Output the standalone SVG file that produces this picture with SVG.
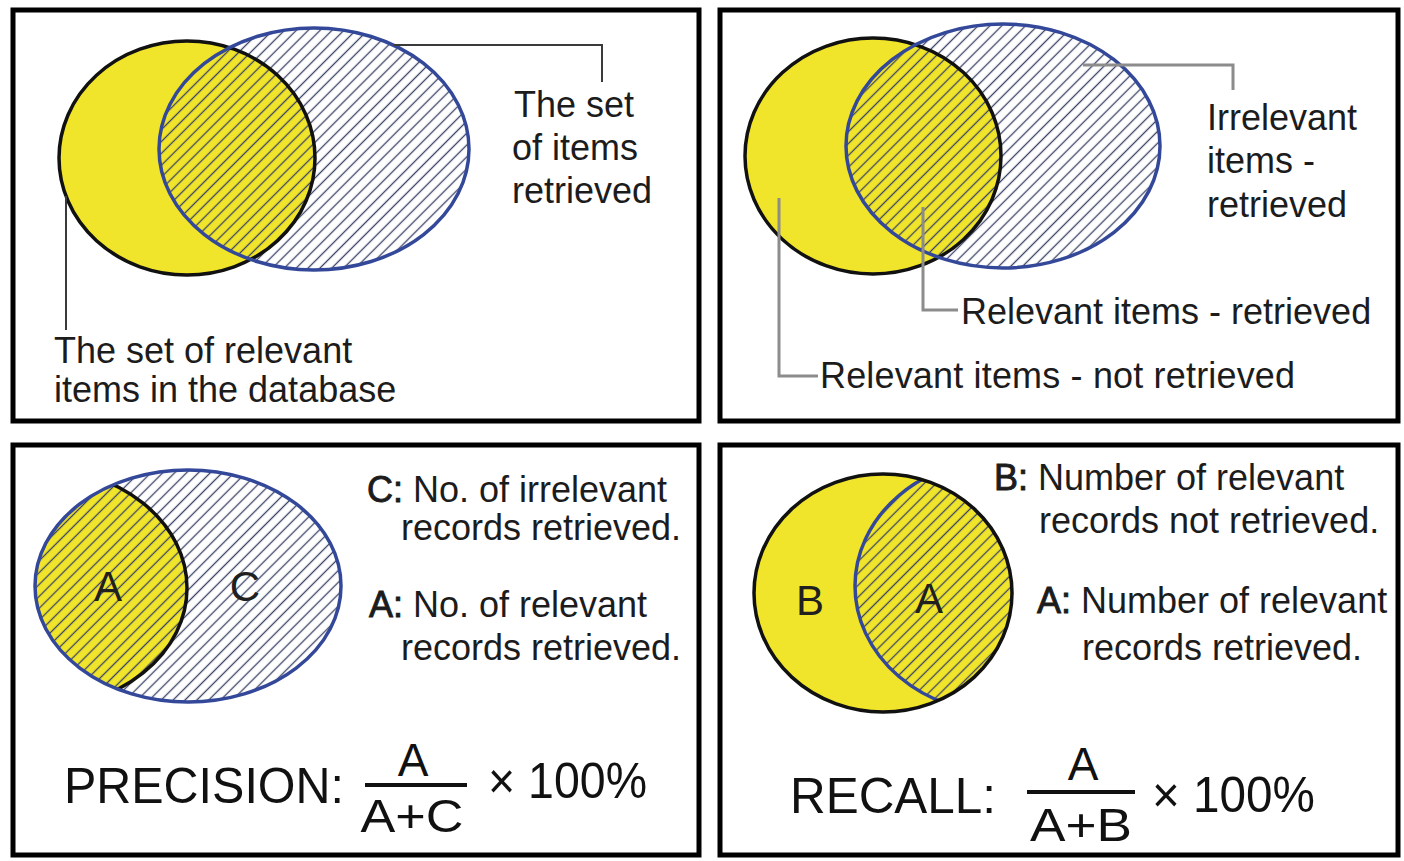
<svg xmlns="http://www.w3.org/2000/svg" width="1404" height="861" viewBox="0 0 1404 861">
  <style>
    .frame { fill: #ffffff; stroke: #000000; stroke-width: 5; }
    .yellow { fill: #F0E52A; }
    .hatch { fill: url(#hatch); }
    .edge-black { fill: none; stroke: #111111; stroke-width: 3.5; }
    .edge-blue { fill: none; stroke: #34489A; stroke-width: 3.5; }
    .lead-dark { fill: none; stroke: #3a3a3a; stroke-width: 2; }
    .lead-grey { fill: none; stroke: #8c8c8c; stroke-width: 3; }
    text { font-family: "Liberation Sans", Arial, sans-serif; fill: #1c1c1c; }
    .lbl { font-size: 36px; }
    .key { stroke: #1c1c1c; stroke-width: 0.9; }
    .region { font-size: 42px; fill: #202020; text-anchor: middle; }
    .formula { font-size: 50px; fill: #111111; }
    .frac { font-size: 46px; fill: #111111; text-anchor: middle; }
    .bar { stroke: #111111; stroke-width: 4; }
  </style>
  <defs>
    <!-- diagonal "/" line fill used for the retrieved set -->
    <pattern id="hatch" patternUnits="userSpaceOnUse" width="8.4" height="8.4" patternTransform="rotate(45)">
      <line x1="4.2" y1="0" x2="4.2" y2="8.4" stroke="#3a4266" stroke-width="1.3"/>
    </pattern>
    <clipPath id="clip-bl-retrieved">
      <ellipse cx="188" cy="586" rx="153" ry="116"/>
    </clipPath>
    <clipPath id="clip-br-relevant">
      <ellipse cx="883" cy="593" rx="129" ry="119"/>
    </clipPath>
  </defs>

  <rect width="1404" height="861" fill="#ffffff"/>

  <!-- Panel 1: the two sets -->
  <g id="panel-sets">
    <rect class="frame" x="13" y="10" width="686" height="411"/>
    <g id="set-relevant-1">
      <ellipse class="yellow" cx="187" cy="158" rx="128" ry="117"/>
    </g>
    <g id="set-retrieved-1">
      <ellipse class="hatch" cx="314" cy="149" rx="155" ry="121"/>
    </g>
    <ellipse class="edge-black" cx="187" cy="158" rx="128" ry="117"/>
    <ellipse class="edge-blue" cx="314" cy="149" rx="155" ry="121"/>
    <g id="label-retrieved-set">
      <text class="lbl" x="514" y="117">The set</text>
      <text class="lbl" x="512" y="160">of items</text>
      <text class="lbl" x="512" y="203">retrieved</text>
    </g>
    <g id="label-relevant-set">
      <text class="lbl" x="54" y="363">The set of relevant</text>
      <text class="lbl" x="54" y="402">items in the database</text>
    </g>
  </g>

  <!-- Panel 2: the three regions -->
  <g id="panel-regions">
    <rect class="frame" x="720" y="10" width="678" height="411"/>
    <g id="set-relevant-2">
      <ellipse class="yellow" cx="873" cy="156" rx="128" ry="118"/>
    </g>
    <g id="set-retrieved-2">
      <ellipse class="hatch" cx="1003" cy="146" rx="157" ry="122"/>
    </g>
    <ellipse class="edge-black" cx="873" cy="156" rx="128" ry="118"/>
    <ellipse class="edge-blue" cx="1003" cy="146" rx="157" ry="122"/>
    <g id="label-irrelevant-retrieved">
      <text class="lbl" x="1207" y="130">Irrelevant</text>
      <text class="lbl" x="1207" y="173">items -</text>
      <text class="lbl" x="1207" y="217">retrieved</text>
    </g>
    <g id="label-relevant-retrieved">
      <text class="lbl" x="961" y="324">Relevant items - retrieved</text>
    </g>
    <g id="label-relevant-not-retrieved">
      <text class="lbl" x="820" y="388" textLength="475" lengthAdjust="spacing">Relevant items - not retrieved</text>
    </g>
  </g>

  <!-- Panel 3: precision -->
  <g id="panel-precision">
    <rect class="frame" x="13" y="445" width="686" height="410"/>
    <g id="set-retrieved-3">
      <g clip-path="url(#clip-bl-retrieved)">
        <ellipse class="yellow" cx="37" cy="588" rx="150" ry="120"/>
      </g>
      <ellipse class="hatch" cx="188" cy="586" rx="153" ry="116"/>
      <g clip-path="url(#clip-bl-retrieved)">
        <ellipse class="edge-black" cx="37" cy="588" rx="150" ry="120"/>
      </g>
      <ellipse class="edge-blue" cx="188" cy="586" rx="153" ry="116"/>
      <text class="region" x="108" y="601">A</text>
      <text class="region" x="245" y="601">C</text>
    </g>
    <g id="legend-precision">
      <text class="lbl" x="367" y="502"><tspan class="key">C:</tspan> No. of irrelevant</text>
      <text class="lbl" x="401" y="540">records retrieved.</text>
      <text class="lbl" x="369" y="617" textLength="278" lengthAdjust="spacing"><tspan class="key">A:</tspan> No. of relevant</text>
      <text class="lbl" x="401" y="660">records retrieved.</text>
    </g>
    <g id="formula-precision">
      <text class="formula" x="64" y="803" textLength="280" lengthAdjust="spacingAndGlyphs">PRECISION:</text>
      <text class="frac" x="413" y="776">A</text>
      <line class="bar" x1="365" y1="785" x2="467" y2="785"/>
      <text class="frac" x="412" y="832" textLength="103" lengthAdjust="spacingAndGlyphs">A+C</text>
      <text class="formula" x="488" y="798" textLength="159" lengthAdjust="spacingAndGlyphs">× 100%</text>
    </g>
  </g>

  <!-- Panel 4: recall -->
  <g id="panel-recall">
    <rect class="frame" x="720" y="445" width="678" height="410"/>
    <g id="set-relevant-4">
      <ellipse class="yellow" cx="883" cy="593" rx="129" ry="119"/>
      <g clip-path="url(#clip-br-relevant)">
        <ellipse class="hatch" cx="1005" cy="586" rx="150" ry="128"/>
        <ellipse class="edge-blue" cx="1005" cy="586" rx="150" ry="128"/>
      </g>
      <ellipse class="edge-black" cx="883" cy="593" rx="129" ry="119"/>
      <text class="region" x="810" y="615">B</text>
      <text class="region" x="929" y="613">A</text>
    </g>
    <g id="legend-recall">
      <text class="lbl" x="994" y="490"><tspan class="key">B:</tspan> Number of relevant</text>
      <text class="lbl" x="1039" y="533">records not retrieved.</text>
      <text class="lbl" x="1037" y="613"><tspan class="key">A:</tspan> Number of relevant</text>
      <text class="lbl" x="1082" y="660">records retrieved.</text>
    </g>
    <g id="formula-recall">
      <text class="formula" x="790" y="813" textLength="206" lengthAdjust="spacingAndGlyphs">RECALL:</text>
      <text class="frac" x="1083" y="780">A</text>
      <line class="bar" x1="1027" y1="792" x2="1135" y2="792"/>
      <text class="frac" x="1081" y="841" textLength="102" lengthAdjust="spacingAndGlyphs">A+B</text>
      <text class="formula" x="1152" y="812" textLength="163" lengthAdjust="spacingAndGlyphs">× 100%</text>
    </g>
  </g>

  <!-- leader lines from labels to set regions -->
  <g id="connectors">
    <polyline class="lead-dark" points="394,45 602,45 602,82"/>
    <polyline class="lead-dark" points="66,196 66,330"/>
    <polyline class="lead-grey" points="1083,65 1233,65 1233,90"/>
    <polyline class="lead-grey" points="923,207 923,310 958,310"/>
    <polyline class="lead-grey" points="779,198 779,376 818,376"/>
  </g>
</svg>
